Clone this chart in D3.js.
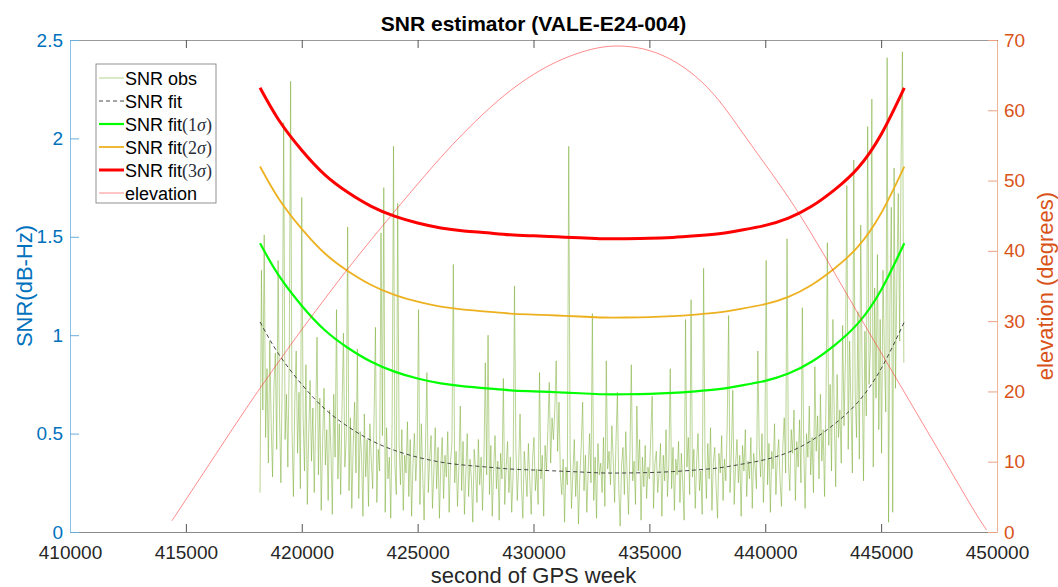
<!DOCTYPE html>
<html>
<head>
<meta charset="utf-8">
<script src="https://cdn.jsdelivr.net/npm/d3@7"></script>
<style>
    body { margin: 0; background: #fff; }
    text { font-family: "Liberation Sans", Arial, sans-serif; }
</style>
</head>
<body>
<script>
// ---- data ----
const xTicks = [410000, 415000, 420000, 425000, 430000, 435000, 440000, 445000, 450000];
const snrTicks = [0, 0.5, 1, 1.5, 2, 2.5];
const elevTicks = [0, 10, 20, 30, 40, 50, 60, 70];

// SNR obs: one sample every 60 s from 418200
const obsStart = 418200, obsStep = 60;
const snrObs = [
    0.20,1.33,0.62,1.51,0.48,0.83,0.35,0.97,0.55,0.28,0.74,0.91,0.42,1.38,0.60,0.25,0.81,2.08,0.47,0.70,
    0.33,0.88,2.29,0.52,0.18,0.66,0.92,0.40,0.71,0.22,1.70,0.58,0.31,0.85,0.14,0.49,0.77,0.36,0.63,0.20,
    0.57,0.99,0.29,0.68,0.11,0.45,0.73,0.34,0.52,0.16,0.62,0.41,0.09,0.70,0.38,1.13,0.27,0.55,0.19,0.64,
    1.01,0.33,0.48,1.55,0.21,0.58,0.12,0.44,0.66,0.30,0.93,0.17,0.51,0.39,0.08,0.60,0.28,0.47,0.13,0.55,
    0.36,0.22,0.58,1.04,0.15,0.42,0.31,1.52,0.49,1.75,0.10,0.53,0.27,0.38,0.07,0.56,1.96,0.34,0.19,1.67,
    0.45,0.24,0.52,0.11,0.39,0.30,0.56,0.18,0.47,0.08,0.35,0.50,0.26,0.41,1.13,0.14,0.55,0.29,0.06,0.44,
    0.81,0.20,0.37,0.49,0.12,0.31,0.53,0.22,0.43,0.07,0.34,0.48,0.17,0.39,0.28,0.51,0.10,0.36,0.45,1.36,
    0.25,0.41,0.13,0.33,0.64,0.21,0.46,0.09,0.30,0.50,0.18,0.37,0.27,0.05,0.42,0.32,0.15,0.47,0.24,0.38,
    0.11,0.35,0.86,0.29,1.00,0.19,0.44,0.08,0.31,0.49,0.22,0.36,0.06,0.40,0.27,0.78,0.14,0.33,0.46,0.20,
    0.38,0.10,0.29,1.25,0.43,0.16,0.34,0.60,0.23,0.07,0.41,0.30,0.18,0.45,0.26,0.09,0.37,0.48,0.21,0.32,
    0.14,0.81,0.27,0.39,0.08,0.44,0.31,0.52,0.76,0.35,0.58,0.47,0.63,0.87,0.41,0.66,0.29,0.19,0.37,0.05,
    0.33,0.24,1.96,0.42,0.12,0.30,0.47,0.18,0.36,0.04,0.28,0.44,0.66,0.21,0.39,0.10,0.31,0.50,0.25,1.11,
    0.16,0.38,0.07,0.45,0.29,0.35,0.20,0.48,0.13,0.87,0.32,0.41,0.24,0.54,0.37,0.15,0.46,0.71,0.22,0.03,
    0.34,0.43,0.19,0.51,0.28,0.09,0.40,0.85,0.26,0.36,0.14,0.64,0.31,0.47,0.06,0.38,0.23,0.44,0.17,0.33,
    0.27,0.49,0.69,0.12,0.35,0.41,0.20,0.30,0.45,0.08,0.39,0.26,0.52,0.18,0.34,0.83,0.22,0.43,0.11,0.37,
    0.29,0.46,0.15,0.40,0.24,0.06,1.08,0.33,0.48,0.19,1.18,0.28,0.42,0.12,0.36,0.50,0.21,0.31,0.09,1.34,
    0.38,0.17,0.45,0.27,0.53,0.11,0.35,0.43,0.23,0.07,0.40,0.30,0.49,0.16,0.37,0.26,0.55,1.10,0.20,0.41,
    0.72,0.14,0.34,0.47,0.25,0.39,0.08,0.44,0.31,0.52,0.18,0.36,0.27,0.48,0.12,0.40,0.33,0.22,0.92,0.43,
    0.28,0.50,0.15,0.37,1.38,0.24,0.45,0.10,0.41,0.32,0.55,0.19,0.38,0.47,0.26,0.13,0.44,0.58,0.30,1.49,
    0.35,0.21,0.52,0.40,0.62,0.16,0.46,0.33,0.57,0.25,1.14,0.43,0.12,0.50,0.38,0.64,0.29,0.48,0.20,0.84,
    0.41,0.59,0.27,0.70,0.36,0.52,0.18,0.66,1.47,0.44,0.75,0.31,1.08,0.57,0.23,0.80,0.48,0.62,0.35,1.05,
    0.54,0.88,1.76,0.42,0.97,0.63,0.30,1.89,0.71,0.48,1.12,0.37,1.56,0.82,0.26,1.02,0.59,2.06,0.75,0.94,
    2.20,0.33,1.24,0.68,1.41,0.52,1.08,0.40,1.33,0.91,0.61,2.41,0.05,1.16,1.65,0.10,1.85,0.73,1.29,1.72,0.97,1.88,2.44,0.86
];

const fitTimes = [418200, 419000, 420000, 421000, 422000, 423000, 424000, 425000, 426000, 427000,
    428000, 429000, 430000, 431000, 432000, 433000, 434000, 435000, 436000, 437000,
    438000, 439000, 440000, 441000, 442000, 443000, 444000, 445000, 446000];
const snrFit = [1.067, 0.905, 0.75, 0.625, 0.535, 0.465, 0.415, 0.38, 0.355, 0.34,
    0.33, 0.32, 0.315, 0.31, 0.305, 0.30, 0.30, 0.302, 0.307, 0.315,
    0.326, 0.345, 0.368, 0.405, 0.465, 0.55, 0.66, 0.83, 1.067];
const snrFit1 = [1.467, 1.305, 1.15, 1.025, 0.935, 0.865, 0.815, 0.78, 0.755, 0.74,
    0.73, 0.72, 0.715, 0.71, 0.705, 0.70, 0.70, 0.702, 0.707, 0.715,
    0.726, 0.745, 0.768, 0.805, 0.865, 0.95, 1.06, 1.23, 1.467];
const snrFit2 = [1.857, 1.695, 1.54, 1.415, 1.325, 1.255, 1.205, 1.17, 1.145, 1.13,
    1.12, 1.11, 1.105, 1.10, 1.095, 1.09, 1.09, 1.092, 1.097, 1.105,
    1.116, 1.135, 1.158, 1.195, 1.255, 1.34, 1.45, 1.62, 1.857];
const snrFit3 = [2.257, 2.095, 1.94, 1.815, 1.725, 1.655, 1.605, 1.57, 1.545, 1.53,
    1.52, 1.51, 1.505, 1.50, 1.495, 1.49, 1.49, 1.492, 1.497, 1.505,
    1.516, 1.535, 1.558, 1.595, 1.655, 1.74, 1.85, 2.02, 2.257];

const elevTimes = [414400, 415000, 416000, 417000, 418000, 419000, 420000, 421000, 422000, 423000,
    424000, 425000, 426000, 427000, 428000, 429000, 430000, 431000, 432000, 433000,
    434000, 435000, 436000, 437000, 438000, 439000, 440000, 441000, 442000, 443000,
    444000, 445000, 446000, 447000, 448000, 449000, 449550];
const elevation = [1.6, 4.6, 9.6, 14.6, 19.5, 24.2, 28.8, 33.2, 37.5, 41.6,
    45.6, 49.5, 53.3, 56.8, 60.0, 62.8, 65.1, 66.9, 68.2, 69.0,
    69.1, 68.5, 67.1, 64.8, 61.4, 56.9, 52.3, 47.6, 42.4, 36.8,
    31.1, 25.5, 19.9, 14.3, 8.7, 3.1, 0.3];

// ---- layout ----
const svgWidth = 1058;
const svgHeight = 587;
const plot = {left: 70, right: 997, top: 40, bottom: 532};

const blue = '#0072BD', orange = '#D95319';

window.onload = main;

function main() {
    const svg = d3.select('body').append('svg')
        .attr('width', svgWidth)
        .attr('height', svgHeight);

    const x = d3.scaleLinear().domain([410000, 450000]).range([plot.left, plot.right]);
    const yL = d3.scaleLinear().domain([0, 2.5]).range([plot.bottom, plot.top]);
    const yR = d3.scaleLinear().domain([0, 70]).range([plot.bottom, plot.top]);

    // top box edge + ticks
    svg.append('g')
        .attr('transform', `translate(0, ${plot.top})`)
        .call(d3.axisTop(x).tickValues(xTicks).tickSize(-8).tickSizeOuter(0).tickFormat(''))
        .call(g => g.select('.domain').attr('stroke', '#9a9a9a'))
        .call(g => g.selectAll('.tick line').attr('stroke', '#555'));

    // bottom axis
    svg.append('g')
        .attr('transform', `translate(0, ${plot.bottom})`)
        .call(d3.axisBottom(x).tickValues(xTicks).tickSize(-8).tickSizeOuter(0).tickPadding(13.5).tickFormat(d3.format('d')))
        .call(g => g.select('.domain').attr('stroke', '#8a8a8a'))
        .call(g => g.selectAll('.tick line').attr('stroke', '#555'))
        .call(g => g.selectAll('text').attr('fill', '#262626').attr('font-size', 19)
            .attr('font-family', '"Liberation Sans", Arial, sans-serif'));

    // left axis
    svg.append('g')
        .attr('transform', `translate(${plot.left}, 0)`)
        .call(d3.axisLeft(yL).tickValues(snrTicks).tickSize(-9).tickSizeOuter(0).tickPadding(7).tickFormat(d3.format('~g')))
        .call(g => g.select('.domain').attr('stroke', '#8cc0e4'))
        .call(g => g.selectAll('.tick line').attr('stroke', '#6aaede'))
        .call(g => g.selectAll('text').attr('fill', blue).attr('font-size', 19)
            .attr('font-family', '"Liberation Sans", Arial, sans-serif'));

    // right axis
    svg.append('g')
        .attr('transform', `translate(${plot.right}, 0)`)
        .call(d3.axisRight(yR).tickValues(elevTicks).tickSize(-9).tickSizeOuter(0).tickPadding(7))
        .call(g => g.select('.domain').attr('stroke', '#f0b497'))
        .call(g => g.selectAll('.tick line').attr('stroke', '#eba283'))
        .call(g => g.selectAll('text').attr('fill', orange).attr('font-size', 19)
            .attr('font-family', '"Liberation Sans", Arial, sans-serif'));

    // lines
    const obsLine = d3.line()
        .x((d, i) => x(obsStart + i * obsStep))
        .y(d => yL(d));
    const fitLine = vals => d3.line()
        .x((d, i) => x(fitTimes[i]))
        .y(d => yL(d))
        .curve(d3.curveNatural)(vals);
    const elevLine = d3.line()
        .x((d, i) => x(elevTimes[i]))
        .y(d => yR(d))
        .curve(d3.curveNatural);

    svg.append('path').attr('d', obsLine(snrObs))
        .attr('fill', 'none').attr('stroke', '#77AC30')
        .attr('stroke-width', 0.8).attr('stroke-opacity', 0.65);
    svg.append('path').attr('d', fitLine(snrFit))
        .attr('fill', 'none').attr('stroke', '#333')
        .attr('stroke-width', 0.9).attr('stroke-dasharray', '4,3');
    svg.append('path').attr('d', fitLine(snrFit1))
        .attr('fill', 'none').attr('stroke', '#00FF00').attr('stroke-width', 2.2);
    svg.append('path').attr('d', fitLine(snrFit2))
        .attr('fill', 'none').attr('stroke', '#EDB120').attr('stroke-width', 1.8);
    svg.append('path').attr('d', fitLine(snrFit3))
        .attr('fill', 'none').attr('stroke', '#FF0000').attr('stroke-width', 3);
    svg.append('path').attr('d', elevLine(elevation))
        .attr('fill', 'none').attr('stroke', '#FF2020')
        .attr('stroke-width', 0.7).attr('stroke-opacity', 0.75);

    // titles
    svg.append('text')
        .attr('x', (plot.left + plot.right) / 2).attr('y', 31)
        .attr('text-anchor', 'middle').attr('font-size', 21).attr('font-weight', 'bold')
        .attr('fill', '#000')
        .text('SNR estimator (VALE-E24-004)');
    svg.append('text')
        .attr('x', (plot.left + plot.right) / 2).attr('y', 583)
        .attr('text-anchor', 'middle').attr('font-size', 22).attr('fill', '#262626')
        .text('second of GPS week');
    svg.append('text')
        .attr('transform', `translate(32, ${(plot.top + plot.bottom) / 2}) rotate(-90)`)
        .attr('text-anchor', 'middle').attr('font-size', 22).attr('fill', blue)
        .text('SNR(dB-Hz)');
    svg.append('text')
        .attr('transform', `translate(1053, ${(plot.top + plot.bottom) / 2}) rotate(-90)`)
        .attr('text-anchor', 'middle').attr('font-size', 22).attr('fill', orange)
        .text('elevation (degrees)');

    render_legend(svg);
}

function render_legend(svg) {
    const entries = [
        {label: 'SNR obs', sigma: null, stroke: '#77AC30', width: 0.8, dash: null, opacity: 0.7},
        {label: 'SNR fit', sigma: null, stroke: '#333', width: 0.9, dash: '4,3', opacity: 1},
        {label: 'SNR fit', sigma: '1', stroke: '#00FF00', width: 2.2, dash: null, opacity: 1},
        {label: 'SNR fit', sigma: '2', stroke: '#EDB120', width: 1.8, dash: null, opacity: 1},
        {label: 'SNR fit', sigma: '3', stroke: '#FF0000', width: 3, dash: null, opacity: 1},
        {label: 'elevation', sigma: null, stroke: '#FF2020', width: 0.7, dash: null, opacity: 0.75}
    ];
    const g = svg.append('g').attr('transform', 'translate(96, 64)');
    g.append('rect')
        .attr('width', 120).attr('height', 139)
        .attr('fill', '#fff').attr('stroke', '#777').attr('stroke-width', 0.8);

    const row = g.selectAll('g.row')
        .data(entries)
        .join('g')
        .attr('class', 'row')
        .attr('transform', (d, i) => `translate(0, ${14 + i * 23})`);
    row.append('line')
        .attr('x1', 3).attr('x2', 28).attr('y1', 0).attr('y2', 0)
        .attr('stroke', d => d.stroke).attr('stroke-width', d => d.width)
        .attr('stroke-dasharray', d => d.dash).attr('stroke-opacity', d => d.opacity);
    const t = row.append('text')
        .attr('x', 29).attr('y', 6.5)
        .attr('font-size', 18).attr('fill', '#000');
    t.append('tspan').text(d => d.label);
    t.filter(d => d.sigma)
        .append('tspan')
        .attr('font-family', '"Liberation Serif", "DejaVu Serif", serif')
        .attr('fill', '#2a2f3a')
        .text(d => '(' + d.sigma)
        .append('tspan').attr('font-style', 'italic').text('σ')
        .append('tspan').attr('font-style', 'normal').text(')');
}
</script>
</body>
</html>
